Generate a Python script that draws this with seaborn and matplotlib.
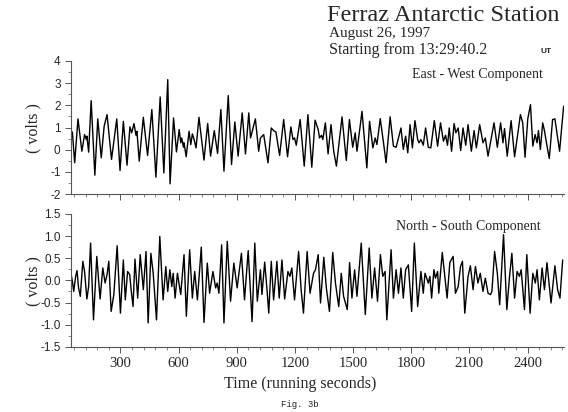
import seaborn as sns
import matplotlib.pyplot as plt
from matplotlib.ticker import MultipleLocator, FormatStrFormatter

# East - West component: time (s) and volts read at turning points of the trace
ew_time = [43, 52, 64, 81, 101, 115, 124, 127, 136, 149, 168, 183, 201, 216, 231, 254,
           281, 298, 315, 334, 349, 358, 370, 380, 385, 397, 418, 440, 462, 483, 505,
           524, 544, 556, 574, 589, 603, 611, 616, 625, 628, 639, 654, 663, 671, 680,
           690, 705, 731, 750, 765, 784, 801, 818, 834, 856, 873, 890, 907, 928, 945,
           962, 971, 996, 1013, 1022, 1039, 1061, 1078, 1090, 1102, 1121, 1142, 1162,
           1179, 1190, 1198, 1207, 1227, 1248, 1267, 1287, 1304,
           1320, 1327, 1337, 1344, 1357, 1371, 1386, 1400, 1414, 1443, 1465, 1481,
           1498, 1511, 1520, 1546, 1571, 1585, 1602, 1614, 1623, 1640, 1657, 1670,
           1691, 1708, 1722, 1734, 1747, 1759, 1771, 1782, 1794, 1806, 1819, 1833,
           1840, 1850, 1862, 1874, 1888, 1901, 1919, 1936, 1951, 1966, 1977, 1987,
           1996, 2008, 2021, 2030, 2042, 2055, 2067, 2081, 2093, 2110, 2124, 2136,
           2153, 2170, 2182, 2196, 2227, 2244, 2261, 2273, 2281, 2295, 2315, 2333,
           2363, 2375, 2387, 2401, 2415, 2427, 2439, 2449, 2456, 2466, 2478, 2487,
           2499, 2512, 2529, 2541, 2565, 2586]
ew_volts = [0.76, 0.80, -0.59, 1.39, -0.07, 0.68, 0.46, 0.61, -0.11, 2.21, -1.15, 1.39,
            -0.37, 1.06, 1.58, -0.44, 1.39, -0.94, 1.28, -0.70, 1.03, 0.76, 1.18, 0.65,
            0.83, -0.52, 1.46, -0.26, 1.81, -1.24, 2.38, -1.05, 3.16, -1.54, 1.43, -0.10,
            0.91, 0.31, 0.53, 0.11, 0.31, -0.32, 0.83, 0.23, 0.71, 0.46, 0.08, 1.46,
            -0.47, 1.18, -0.29, 0.86, -0.17, 1.81, -0.97, 2.44, -0.67, 1.25, -0.29, 1.66,
            -0.19, 1.66, 0.53, 1.39, -0.07, 0.53, 0.68, -0.59, 0.98, 0.86, 0.80, -0.26,
            1.36, -0.32, 1.03, 0.46, 0.53, 0.20, 1.36, -0.74, 1.58, -0.79, 1.33,
            0.91, 0.53, 0.65, 0.46, 1.21, -0.19, 1.13, -0.07, -0.74, 1.48, -0.49, 1.36,
            0.11, 0.76, -0.07, 1.73, -0.82, 1.28, 0.08, 0.53, 0.23, 1.40, 0.31, -0.59,
            1.48, 0.16, 0.11, 0.53, 0.98, 0.01, 0.61, -0.14, 1.13, 0.08, 1.31, 0.46,
            0.31, 0.46, 0.20, 0.98, 0.11, 0.08, 1.31, 0.16, 1.21, 0.38, 0.65, 0.20,
            0.98, -0.07, 1.18, 0.76, 0.98, -0.04, 0.98, 0.20, 1.13, -0.07, 0.86, 0.08,
            1.13, 0.31, 0.53, -0.29, 1.21, 0.11, 1.21, 0.31, 0.95, -0.29, 1.31, -0.32,
            1.58, 1.21, -0.34, 1.39, 2.03, 0.16, 0.68, 0.31, 0.86, 0.01, 1.21, 0.86,
            0.23, -0.40, 1.36, 1.39, -0.07, 1.96]

# North - South component
ns_time = [43, 52, 59, 69, 76, 84, 93, 106, 115, 127, 136, 146, 161, 178, 195, 209, 221,
           231, 240, 252, 266, 283, 300, 315, 325, 337, 348, 355, 365, 375, 389, 402,
           418, 432, 443, 457, 469, 486, 503, 520, 534, 544, 555, 565, 572, 582, 594,
           611, 628, 640, 657, 671, 683, 697, 717, 731, 748, 760, 777, 791, 799, 808,
           822, 834, 851, 868, 885, 902, 924, 940, 959, 979, 993, 1006, 1022, 1030,
           1044, 1056, 1065, 1078, 1090, 1107, 1119, 1133, 1147, 1164, 1174, 1184,
           1198, 1219, 1232, 1244, 1263, 1278, 1296,
           1306, 1320, 1332, 1349, 1362, 1378, 1395, 1409, 1426, 1439, 1451, 1470,
           1482, 1494, 1508, 1520, 1542, 1563, 1583, 1597, 1611, 1626, 1641, 1653,
           1665, 1674, 1696, 1708, 1722, 1734, 1747, 1759, 1771, 1785, 1802, 1816,
           1833, 1850, 1862, 1871, 1888, 1896, 1905, 1917, 1925, 1936, 1942, 1960,
           1973, 1985, 1999, 2016, 2028, 2042, 2054, 2064, 2076, 2093, 2105, 2119,
           2131, 2144, 2156, 2170, 2182, 2196, 2209, 2216, 2230, 2244, 2256, 2276,
           2293, 2307, 2319, 2333, 2346, 2358, 2367, 2384, 2396, 2413, 2427, 2440,
           2449, 2461, 2475, 2487, 2500, 2521, 2541, 2555, 2567, 2581]
ns_volts = [0.20, -0.02, -0.25, 0.09, 0.22, -0.17, -0.36, 0.43, 0.20, -0.42, -0.14, 0.84,
            -0.89, 0.54, -0.42, 0.28, -0.06, 0.13, 0.43, -0.70, -0.32, 0.78, -0.74, 0.46,
            -0.44, 0.20, 0.13, -0.21, -0.59, 0.48, -0.40, 0.58, -0.21, 0.65, -0.96, 0.61,
            0.16, -0.89, 0.99, -0.44, 0.31, -0.25, 0.24, -0.14, 0.16, -0.40, 0.16, -0.32,
            0.58, -0.81, 0.69, -0.40, 0.20, -0.44, 0.75, -0.95, 0.39, -0.29, 0.20, -0.17,
            -0.06, -0.29, 0.80, -0.96, 0.88, -0.47, 0.39, -0.17, 0.61, -0.44, 0.67, -0.93,
            0.84, -0.47, 0.24, -0.32, 0.41, -0.21, -0.74, 0.43, -0.44, 0.43, -0.40, 0.46,
            -0.42, 0.20, 0.09, 0.28, -0.44, 0.65, -0.21, -0.74, 0.65, -0.29, 0.16,
            0.24, 0.58, -0.51, 0.52, -0.17, -0.70, 0.63, -0.06, -0.59, 0.16, -0.36, -0.66,
            0.40, -0.40, 0.24, -0.36, 0.84, -0.77, 0.73, -0.40, 0.28, -0.47, 0.58, 0.09,
            0.20, -0.89, 0.69, -0.40, 0.24, -0.29, 0.28, -0.40, 0.24, 0.35, -0.70, 0.84,
            -0.59, 0.20, -0.29, 0.16, -0.06, 0.09, -0.40, 0.24, 0.05, 0.20, -0.29, 0.63,
            0.09, -0.40, 0.40, 0.54, -0.29, -0.14, 0.31, 0.43, -0.74, 0.09, 0.33, -0.21,
            0.31, -0.06, 0.16, -0.25, 0.05, -0.29, -0.32, -0.25, 0.65, 0.16, -0.55, 1.03,
            -0.66, 0.09, 0.61, -0.40, 0.20, 0.09, 0.24, -0.66, 0.58, -0.74, 0.16, -0.06,
            0.24, -0.44, 0.28, -0.21, 0.40, -0.51, 0.33, -0.21, -0.40, 0.46]

x_ticks = [300, 600, 900, 1200, 1500, 1800, 2100, 2400]

sns.set_theme(style="ticks")
plt.rcParams['font.family'] = ['Liberation Serif', 'DejaVu Serif']
plt.rcParams['axes.unicode_minus'] = False

fig = plt.figure(figsize=(5.68, 4.12), dpi=100)
ax1 = fig.add_axes([0.125, 0.529, 0.868, 0.323])
ax2 = fig.add_axes([0.125, 0.158, 0.868, 0.323])

sns.lineplot(x=ew_time, y=ew_volts, ax=ax1, color="black", linewidth=1.0)
sns.lineplot(x=ns_time, y=ns_volts, ax=ax2, color="black", linewidth=1.0)

for ax in (ax1, ax2):
    ax.set_xlim(45, 2588)
    ax.set_xticks(x_ticks)
    ax.xaxis.set_minor_locator(MultipleLocator(60))
    ax.set_xlabel("")
    ax.set_ylabel("")
    sns.despine(ax=ax)
    for s in ("left", "bottom"):
        ax.spines[s].set_color("#555555")
        ax.spines[s].set_linewidth(0.8)
    ax.tick_params(which="major", direction="out", length=4, width=0.7, color="#555555")
    ax.tick_params(which="minor", direction="out", length=2.5, width=0.6, color="#777777")

ax1.set_ylim(-2, 4)
ax1.yaxis.set_major_locator(MultipleLocator(1))
ax1.yaxis.set_minor_locator(MultipleLocator(0.5))
ax1.tick_params(axis="x", labelbottom=False)

ax2.set_ylim(-1.5, 1.5)
ax2.yaxis.set_major_locator(MultipleLocator(0.5))
ax2.yaxis.set_minor_locator(MultipleLocator(0.25))
ax2.yaxis.set_major_formatter(FormatStrFormatter("%.1f"))

for ax in (ax1, ax2):
    for lab in ax.get_yticklabels():
        lab.set_fontfamily("Liberation Sans")
        lab.set_fontsize(8.5)
for lab in ax2.get_xticklabels():
    lab.set_fontsize(10.5)

fig.text(0.575, 0.962, "Ferraz Antarctic Station", fontsize=17.5, va="center", ha="left")
fig.text(0.579, 0.918, "August 26, 1997", fontsize=11, va="center", ha="left")
fig.text(0.579, 0.879, "Starting from 13:29:40.2", fontsize=11.5, va="center", ha="left")
fig.text(0.952, 0.874, "UT", fontsize=6, va="center", ha="left",
         family="Liberation Sans", fontweight="bold")

ax1.text(0.956, 0.820, "East - West Component", transform=fig.transFigure,
         fontsize=10, ha="right", va="center")
ax2.text(0.952, 0.451, "North - South Component", transform=fig.transFigure,
         fontsize=10, ha="right", va="center")

fig.text(0.058, 0.690, "( volts )", rotation=90, fontsize=11.5, ha="center", va="center")
fig.text(0.058, 0.319, "( volts )", rotation=90, fontsize=11.5, ha="center", va="center")

fig.text(0.528, 0.068, "Time (running seconds)", fontsize=11.5, ha="center", va="center")
fig.text(0.528, 0.019, "Fig. 3b", fontsize=6.5, ha="center", va="center",
         family="Liberation Mono")

fig.savefig("out.png", dpi=100)
